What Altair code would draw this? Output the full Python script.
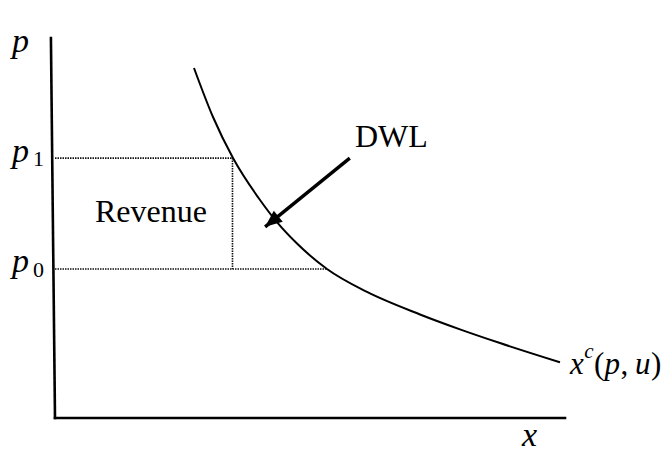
import altair as alt
import pandas as pd

# Compensated demand curve x^c(p, u) (x, p)
curve_x = [2.725, 3.098, 3.490, 4.020, 4.373, 4.745, 5.333, 6.118, 7.157, 7.941, 8.725, 9.902]
curve_p = [9.211, 7.921, 6.842, 5.737, 5.120, 4.590, 3.921, 3.317, 2.725, 2.333, 1.972, 1.466]

# Prices and quantities
p1 = 6.84
p0 = 3.92
q1 = 3.48
q0 = 5.33

# Axes segments (x, p, x2, p2)
axis_x = [0.0, 0.0]
axis_p = [0.0, 0.0]
axis_x2 = [-0.08, 10.0]
axis_p2 = [10.0, 0.0]

# Dotted guide segments
guide_x = [0.0, 0.0, q1]
guide_p = [p1, p0, p1]
guide_x2 = [q1, q0, q1]
guide_p2 = [p1, p0, p0]

# Arrow pointing at DWL
arrow_x = [5.78]
arrow_p = [6.84]
arrow_x2 = [4.12]
arrow_p2 = [5.03]
arrow_angle = [231]

# Labels
axis_label_text = ["p", "p", "p", "x"]
axis_label_x = [-0.843, -0.843, -0.843, 9.157]
axis_label_p = [9.632, 6.737, 3.842, -0.74]

big_roman_text = ["Revenue", "DWL"]
big_roman_x = [0.784, 5.882]
big_roman_p = [5.158, 7.132]

sub_text = ["1", "0"]
sub_x = [-0.43, -0.43]
sub_p = [6.632, 3.711]

curve_it_text = ["x", "p", "u"]
curve_it_x = [10.098, 10.774, 11.372]
curve_it_p = [1.158, 1.158, 1.158]

curve_rm_text = ["(", ",", ")"]
curve_rm_x = [10.568, 11.088, 11.686]
curve_rm_p = [1.158, 1.158, 1.158]

sup_text = ["c"]
sup_x = [10.378]
sup_p = [1.579]

xs = alt.Scale(domain=[0, 10], range=[47, 557])
ys = alt.Scale(domain=[0, 10], range=[410, 30])
FONT = "Liberation Serif"

curve_df = pd.DataFrame({"x": curve_x, "p": curve_p, "o": list(range(len(curve_x)))})
axis_df = pd.DataFrame({"x": axis_x, "p": axis_p, "x2": axis_x2, "p2": axis_p2})
guide_df = pd.DataFrame({"x": guide_x, "p": guide_p, "x2": guide_x2, "p2": guide_p2})
arrow_df = pd.DataFrame({"x": arrow_x, "p": arrow_p, "x2": arrow_x2, "p2": arrow_p2, "a": arrow_angle})


def seg_enc():
    return dict(
        x=alt.X("x:Q", scale=xs, axis=None),
        y=alt.Y("p:Q", scale=ys, axis=None),
        x2="x2:Q",
        y2="p2:Q",
    )


axes = alt.Chart(axis_df).mark_rule(color="black", strokeWidth=2.6, strokeCap="square").encode(**seg_enc())
guides = alt.Chart(guide_df).mark_rule(color="#111111", strokeWidth=1.6, strokeDash=[1.5, 1]).encode(**seg_enc())
curve = alt.Chart(curve_df).mark_line(color="black", strokeWidth=2, interpolate="monotone").encode(
    x=alt.X("x:Q", scale=xs, axis=None),
    y=alt.Y("p:Q", scale=ys, axis=None),
    order="o:O",
)
shaft = alt.Chart(arrow_df).mark_rule(color="black", strokeWidth=3.4).encode(**seg_enc())
head = alt.Chart(arrow_df).mark_point(
    shape="M0,0L-0.42,1L0.42,1Z", filled=True, color="black", opacity=1, size=1150, strokeWidth=0
).encode(
    x=alt.X("x2:Q", scale=xs, axis=None),
    y=alt.Y("p2:Q", scale=ys, axis=None),
    angle=alt.Angle("a:Q", scale=None),
)


def text_layer(texts, tx, tp, size, style):
    df = pd.DataFrame({"t": texts, "x": tx, "p": tp})
    return alt.Chart(df).mark_text(
        align="left", baseline="alphabetic", font=FONT, fontSize=size, fontStyle=style, color="black"
    ).encode(
        x=alt.X("x:Q", scale=xs, axis=None),
        y=alt.Y("p:Q", scale=ys, axis=None),
        text="t:N",
    )


labels = (
    text_layer(axis_label_text, axis_label_x, axis_label_p, 34, "italic")
    + text_layer(big_roman_text, big_roman_x, big_roman_p, 32, "normal")
    + text_layer(sub_text, sub_x, sub_p, 22, "normal")
    + text_layer(curve_it_text, curve_it_x, curve_it_p, 31, "italic")
    + text_layer(curve_rm_text, curve_rm_x, curve_rm_p, 31, "normal")
    + text_layer(sup_text, sup_x, sup_p, 21, "italic")
)

chart = (
    alt.layer(guides, axes, curve, shaft, head, labels)
    .properties(width=655, height=446, autosize=alt.AutoSizeParams(type="none"), padding=0)
    .configure_view(strokeWidth=0, stroke="transparent")
)

chart.save("out.html", embed_options={"renderer": "svg", "actions": False})
